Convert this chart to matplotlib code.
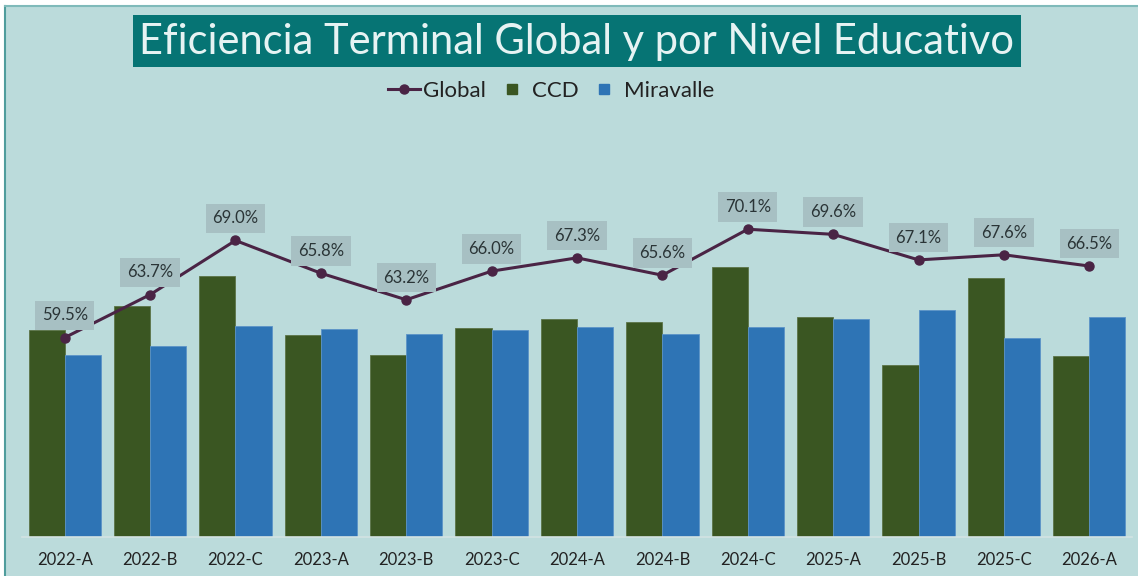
import numpy as np
import matplotlib
matplotlib.use("Agg")
import matplotlib.pyplot as plt
from matplotlib.lines import Line2D
from matplotlib.patches import Rectangle
from matplotlib.legend_handler import HandlerLine2D

periodos = ["2022-A", "2022-B", "2022-C", "2023-A", "2023-B", "2023-C", "2024-A",
            "2024-B", "2024-C", "2025-A", "2025-B", "2025-C", "2026-A"]
global_pct = [59.5, 63.7, 69.0, 65.8, 63.2, 66.0, 67.3, 65.6, 70.1, 69.6, 67.1, 67.6, 66.5]
ccd = [60.2, 62.6, 65.5, 59.8, 57.8, 60.4, 61.3, 61.0, 66.4, 61.5, 56.8, 65.3, 57.7]
miravalle = [57.8, 58.7, 60.6, 60.3, 59.9, 60.2, 60.5, 59.9, 60.5, 61.3, 62.2, 59.5, 61.5]

BG = "#bbdbdb"
TITLE_BG = "#067474"
C_GLOBAL = "#4a2445"
C_CCD = "#3a5622"
C_MIR = "#2e74b5"
FONT = "Lato"


class RightMarker(HandlerLine2D):
    # square marker sits at the right end of the handle, next to the text
    def get_xdata(self, legend, xdescent, ydescent, width, height, fontsize):
        xdata = np.array([-xdescent, -xdescent + width])
        return xdata, np.array([-xdescent + width - 5])


W, H = 1138, 576
fig = plt.figure(figsize=(W / 100, H / 100), dpi=100, facecolor="white")

# chart area background with border
fig.patches.append(Rectangle((5 / W, 0), 1 - 5 / W, 1 - 6 / H, transform=fig.transFigure,
                             facecolor=BG, edgecolor="none", zorder=-2))
fig.lines.append(Line2D([5 / W, 5 / W], [0, 1 - 6 / H], transform=fig.transFigure,
                        color="#4f9c9c", linewidth=1.5, zorder=-1))
fig.lines.append(Line2D([5 / W, 1], [1 - 6 / H, 1 - 6 / H], transform=fig.transFigure,
                        color="#7fbaba", linewidth=1.5, zorder=-1))

# title box
fig.patches.append(Rectangle((133 / W, 1 - 67 / H), (1021 - 133) / W, 52 / H,
                             transform=fig.transFigure, facecolor=TITLE_BG,
                             edgecolor="none", zorder=1))
fig.text(577 / W, 1 - 42 / H, "Eficiencia Terminal Global y por Nivel Educativo",
         ha="center", va="center", color="#e6f3f3", fontsize=30, family=FONT, zorder=2)

ax = fig.add_axes([22 / W, (H - 537) / H, 1110 / W, (537 - 128) / H])
ax.set_facecolor("none")
ax.set_zorder(3)

x = np.arange(len(periodos))
bw = 0.423
ax.bar(x - bw / 2, np.array(ccd) - 40, bw, bottom=40, color=C_CCD,
       edgecolor="#5b7448", linewidth=0.6, zorder=2)
ax.bar(x + bw / 2, np.array(miravalle) - 40, bw, bottom=40, color=C_MIR,
       edgecolor="#5b93c8", linewidth=0.6, zorder=2)
ax.plot(x, global_pct, color=C_GLOBAL, linewidth=2.2, marker="o", markersize=6.5, zorder=3)

for xi, v in zip(x, global_pct):
    ax.annotate(f"{v:.1f}%", (xi, v), xytext=(0, 16), textcoords="offset points",
                ha="center", va="center", fontsize=12, color="#2a3436", family=FONT,
                bbox=dict(boxstyle="square,pad=0.4", facecolor="#a7c0c3", edgecolor="none"),
                zorder=4)

ax.set_xlim(-0.5, len(periodos) - 0.5)
ax.set_ylim(40, 80)
ax.set_xticks(x)
ax.set_xticklabels(periodos, fontsize=12, color="#222222", family=FONT)
ax.tick_params(axis="x", length=0, pad=11)
ax.set_yticks([])
for s in ["left", "right", "top"]:
    ax.spines[s].set_visible(False)
ax.spines["bottom"].set_color("#d3e3e3")
ax.spines["bottom"].set_linewidth(1.2)

h_global = Line2D([], [], color=C_GLOBAL, linewidth=2.2, marker="o", markersize=6.5)
h_ccd = Line2D([], [], color=C_CCD, marker="s", linestyle="none", markersize=7.5)
h_mir = Line2D([], [], color=C_MIR, marker="s", linestyle="none", markersize=7.5)
fig.legend([h_global, h_ccd, h_mir], ["Global", "CCD", "Miravalle"], loc="center",
           bbox_to_anchor=(551 / W, 1 - 91 / H), ncol=3, frameon=False,
           prop={"family": FONT, "size": 16}, handlelength=1.44, handletextpad=0.15,
           columnspacing=0.45, labelcolor="#222222",
           handler_map={h_ccd: RightMarker(), h_mir: RightMarker()})

fig.savefig("out.png", dpi=100, facecolor="white")
